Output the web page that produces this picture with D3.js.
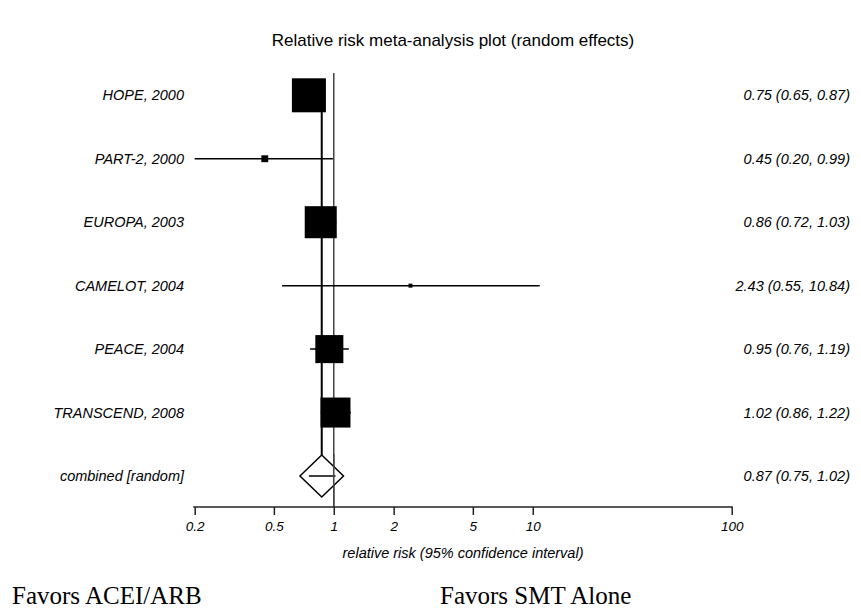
<!DOCTYPE html>
<html><head><meta charset="utf-8">
<script src="https://cdn.jsdelivr.net/npm/d3@7/dist/d3.min.js"></script>
<style>body{margin:0;background:#fff}svg{display:block}</style>
</head><body><div id="chart"></div>
<script>
const studies = ["HOPE, 2000","PART-2, 2000","EUROPA, 2003","CAMELOT, 2004","PEACE, 2004","TRANSCEND, 2008"];
const rr = [0.75, 0.45, 0.86, 2.43, 0.95, 1.02];
const lo = [0.65, 0.20, 0.72, 0.55, 0.76, 0.86];
const hi = [0.87, 0.99, 1.03, 10.84, 1.19, 1.22];
const weights = [29.4, 1.2, 26.1, 0.4, 20.0, 22.9];
const pooled = {label:"combined [random]", rr:0.87, lo:0.75, hi:1.02};
const tickValues = [0.2, 0.5, 1, 2, 5, 10, 100];
const tickLabels = ["0.2","0.5","1","2","5","10","100"];

const W = 861, H = 611;
const svg = d3.select("#chart").append("svg").attr("width", W).attr("height", H);
svg.append("rect").attr("width",W).attr("height",H).attr("fill","#fff");

const x = d3.scaleLog().domain([0.2, 100]).range([194.7, 731.7]);
const rows = studies.concat([pooled.label]);
const y = d3.scalePoint().domain(rows).range([95.3, 476]);
const size = d3.scaleSqrt().domain([0, d3.max(weights)]).range([0, 34]);
const axisY = 507;

const font = "Liberation Sans, Arial, sans-serif";
const fmt = d3.format(".2f");
const lblSize = 14.5;

svg.append("text").attr("x", 453).attr("y", 46).attr("text-anchor","middle")
  .attr("font-family",font).attr("font-size",17)
  .text("Relative risk meta-analysis plot (random effects)");

// vertical reference lines
svg.append("line").attr("x1", x(1)).attr("x2", x(1)).attr("y1", 73).attr("y2", axisY)
  .attr("stroke","#444").attr("stroke-width",1.5);
svg.append("line").attr("x1", x(pooled.rr)).attr("x2", x(pooled.rr)).attr("y1", y(studies[0])).attr("y2", y(pooled.label)-21)
  .attr("stroke","#000").attr("stroke-width",2);

studies.forEach((s,i)=>{
  const cy = y(s);
  svg.append("line").attr("x1", x(lo[i])).attr("x2", x(hi[i])).attr("y1", cy).attr("y2", cy)
    .attr("stroke","#000").attr("stroke-width",1.5);
  const b = size(weights[i]);
  svg.append("rect").attr("x", x(rr[i]) - b/2).attr("y", cy - b/2).attr("width", b).attr("height", b).attr("fill","#000");
  svg.append("text").attr("x", 184).attr("y", cy + 5).attr("text-anchor","end")
    .attr("font-family",font).attr("font-size",lblSize).attr("font-style","italic").text(s);
  svg.append("text").attr("x", 850).attr("y", cy + 5).attr("text-anchor","end")
    .attr("font-family",font).attr("font-size",lblSize).attr("font-style","italic")
    .text(`${fmt(rr[i])} (${fmt(lo[i])}, ${fmt(hi[i])})`);
});

// pooled diamond
{
  const cy = y(pooled.label), cx = x(pooled.rr);
  svg.append("path").attr("d", `M${cx-21.8},${cy}L${cx},${cy-21}L${cx+21.8},${cy}L${cx},${cy+21}Z`)
    .attr("fill","#fff").attr("stroke","#000").attr("stroke-width",1.5);
  svg.append("line").attr("x1", x(pooled.lo)).attr("x2", x(pooled.hi)).attr("y1", cy).attr("y2", cy)
    .attr("stroke","#000").attr("stroke-width",1.5);
  svg.append("line").attr("x1", x(1)).attr("x2", x(1)).attr("y1", cy-22).attr("y2", axisY)
    .attr("stroke","#444").attr("stroke-width",1.5);
  svg.append("text").attr("x", 184).attr("y", cy + 5).attr("text-anchor","end")
    .attr("font-family",font).attr("font-size",lblSize).attr("font-style","italic").text(pooled.label);
  svg.append("text").attr("x", 850).attr("y", cy + 5).attr("text-anchor","end")
    .attr("font-family",font).attr("font-size",lblSize).attr("font-style","italic")
    .text(`${fmt(pooled.rr)} (${fmt(pooled.lo)}, ${fmt(pooled.hi)})`);
}

// axis
const axis = d3.axisBottom(x).tickValues(tickValues).tickFormat((d,i)=>tickLabels[i]).tickSize(8).tickSizeOuter(0);
const g = svg.append("g").attr("transform",`translate(0,${axisY})`).call(axis);
g.select(".domain").attr("stroke","#222").attr("stroke-width",1.5).attr("d", `M${x(0.2)-1.5},0H${x(100)+1}`);
g.selectAll(".tick line").attr("stroke","#222").attr("stroke-width",1.5);
g.selectAll(".tick text").attr("font-family",font).attr("font-size",13.5).attr("font-style","italic")
  .attr("fill","#000").attr("dy","0").attr("y",23.5);

svg.append("text").attr("x", 463).attr("y", 558).attr("text-anchor","middle")
  .attr("font-family",font).attr("font-size",14.5).attr("font-style","italic")
  .text("relative risk (95% confidence interval)");

svg.append("text").attr("x", 12).attr("y", 604).attr("font-family","Liberation Serif, Times New Roman, serif")
  .attr("font-size",25).text("Favors ACEI/ARB");
svg.append("text").attr("x", 440).attr("y", 604).attr("font-family","Liberation Serif, Times New Roman, serif")
  .attr("font-size",25).text("Favors SMT Alone");
</script></body></html>
